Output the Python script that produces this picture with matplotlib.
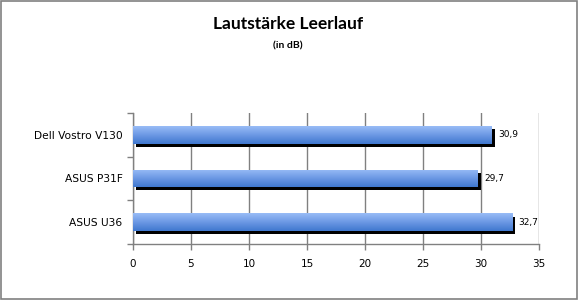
import numpy as np
import matplotlib
matplotlib.use("Agg")
import matplotlib.pyplot as plt
from matplotlib import patheffects as pe
from matplotlib.colors import LinearSegmentedColormap
from matplotlib.patches import Rectangle

categories = ["ASUS U36", "ASUS P31F", "Dell Vostro V130"]
values = [32.7, 29.7, 30.9]
value_labels = ["32,7", "29,7", "30,9"]
xticks = [0, 5, 10, 15, 20, 25, 30, 35]

fig = plt.figure(figsize=(5.78, 3.0), dpi=100)
ax = fig.add_axes([0.230, 0.187, 0.7025, 0.436])
gray = "#808080"

ypos = np.arange(len(categories))
bars = ax.barh(ypos, values, height=0.4, color="#7aa3e8", zorder=3,
               path_effects=[pe.SimplePatchShadow(offset=(2.3, -2.3), shadow_rgbFace="black", alpha=1.0), pe.Normal()])

cmap = LinearSegmentedColormap.from_list("g", ["#4078cf", "#6c98e4", "#98bcf6"])
grad = np.linspace(0, 1, 64).reshape(-1, 1)
for b in bars:
    x0, y0, w, h = b.get_x(), b.get_y(), b.get_width(), b.get_height()
    im = ax.imshow(grad, extent=[x0, x0 + w, y0, y0 + h], origin="lower", cmap=cmap,
                   aspect="auto", zorder=4)
    im.set_clip_path(b)

for y, v, lab in zip(ypos, values, value_labels):
    ax.text(v + 0.55, y, lab, va="center", ha="left", fontsize=6.5, family="DejaVu Sans", zorder=5)

ax.set_xlim(0, 35)
ax.set_ylim(-0.5, len(categories) - 0.5)
ax.set_xticks(xticks)
ax.set_xticklabels([str(t) for t in xticks], fontsize=7.5)
ax.set_yticks(ypos)
ax.set_yticklabels(categories, fontsize=7.7)
ax.set_yticks(np.arange(-0.5, len(categories)), minor=True)
ax.tick_params(axis="y", which="major", length=0, pad=7.5)
ax.tick_params(axis="y", which="minor", length=4, color=gray, width=1)
ax.tick_params(axis="x", which="major", length=4, color=gray, width=1, pad=7)
ax.grid(axis="x", color=gray, linewidth=1, zorder=0)
ax.set_axisbelow(True)
for s in ["top", "right"]:
    ax.spines[s].set_visible(False)
for s in ["left", "bottom"]:
    ax.spines[s].set_color(gray)
    ax.spines[s].set_linewidth(1)

fig.text(0.498, 0.92, "Lautstärke Leerlauf", ha="center", va="center", fontsize=12.5,
         fontweight="bold", family="Lato")
fig.text(0.498, 0.848, "(in dB)", ha="center", va="center", fontsize=7.5,
         fontweight="bold", family="Lato")

fig.patches.append(Rectangle((0.001, 0.002), 0.997, 0.995, transform=fig.transFigure,
                             fill=False, edgecolor=gray, linewidth=1.2))

fig.savefig("out.png", dpi=100)
